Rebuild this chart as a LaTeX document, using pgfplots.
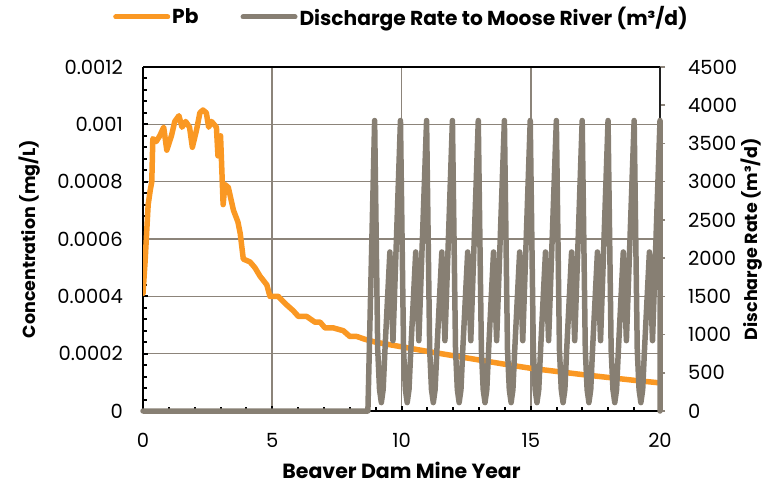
\documentclass[border=0pt]{standalone}
\usepackage{pgfplots}
\pgfplotsset{compat=1.18}
\usepackage{fontspec}
\setmainfont{Poppins}
\definecolor{pborange}{RGB}{250,152,35}
\definecolor{dgrey}{RGB}{135,127,115}
\definecolor{gridgrey}{RGB}{140,132,122}

\pgfplotstableread{
x y
0.00 0.00041
0.08 0.00052
0.14 0.00062
0.20 0.00072
0.28 0.00077
0.34 0.00080
0.38 0.00095
0.51 0.00094
0.65 0.00096
0.80 0.00099
0.92 0.00091
1.10 0.00096
1.23 0.00101
1.39 0.00103
1.51 0.00099
1.65 0.00101
1.80 0.00099
1.91 0.00092
2.07 0.00098
2.20 0.00104
2.32 0.00105
2.45 0.00104
2.54 0.00099
2.65 0.00101
2.84 0.00099
2.90 0.00089
3.00 0.00096
3.10 0.00072
3.17 0.00079
3.30 0.00078
3.50 0.00070
3.67 0.00066
3.76 0.00062
3.88 0.00053
4.14 0.00052
4.33 0.00050
4.53 0.00047
4.79 0.00044
4.91 0.00040
5.23 0.00040
5.56 0.00037
5.81 0.00035
6.01 0.00033
6.33 0.00033
6.65 0.00031
6.85 0.00031
7.04 0.00029
7.36 0.00029
7.75 0.00028
8.00 0.00026
8.27 0.00026
8.59 0.00025
9.00 0.000240
10.00 0.000224
11.00 0.000208
12.00 0.000193
13.00 0.000178
14.00 0.000163
15.00 0.000149
16.00 0.000138
17.00 0.000127
18.00 0.000117
19.00 0.000107
20.00 0.000098
}\pbdata

\pgfplotstableread{
x y
0.00 0
8.70 0
8.96 3800
9.08 800
9.15 280
9.22 110
9.29 280
9.36 800
9.55 2080
9.67 920
9.96 3800
10.08 800
10.15 280
10.22 110
10.29 280
10.36 800
10.55 2080
10.67 920
10.97 3800
11.09 800
11.16 280
11.23 110
11.30 280
11.37 800
11.56 2080
11.68 920
11.97 3800
12.09 800
12.16 280
12.23 110
12.30 280
12.37 800
12.56 2080
12.68 920
12.97 3800
13.09 800
13.16 280
13.23 110
13.30 280
13.37 800
13.56 2080
13.68 920
13.98 3800
14.10 800
14.17 280
14.24 110
14.31 280
14.38 800
14.57 2080
14.69 920
14.98 3800
15.10 800
15.17 280
15.24 110
15.31 280
15.38 800
15.57 2080
15.69 920
15.99 3800
16.11 800
16.18 280
16.25 110
16.32 280
16.39 800
16.58 2080
16.70 920
16.99 3800
17.11 800
17.18 280
17.25 110
17.32 280
17.39 800
17.58 2080
17.70 920
17.99 3800
18.11 800
18.18 280
18.25 110
18.32 280
18.39 800
18.58 2080
18.70 920
19.00 3800
19.12 800
19.19 280
19.26 110
19.33 280
19.40 800
19.59 2080
19.71 920
20.00 3800
20.00 0
}\disdata

\begin{document}
\begin{tikzpicture}
\path[use as bounding box] (0,0) rectangle (775pt,487pt);
\begin{axis}[
  at={(143pt,76pt)}, anchor=south west,
  scale only axis, width=517pt, height=344pt,
  xmin=0, xmax=20, ymin=0, ymax=0.0012,
  axis x line*=bottom, axis y line*=left,
  x axis line style={black, line width=2.4pt},
  y axis line style={black, line width=2.6pt},
  xtick={0,5,10,15,20}, minor x tick num=4,
  ytick={0,0.0002,0.0004,0.0006,0.0008,0.001,0.0012},
  yticklabels={0,0.0002,0.0004,0.0006,0.0008,0.001,0.0012},
  minor y tick num=4,
  tick align=inside,
  major tick length=5pt, minor tick length=4pt,
  tick style={black, line width=2pt},
  xmajorgrids, ymajorgrids,
  grid style={gridgrey, line width=1.6pt},
  scaled y ticks=false,
  /pgf/number format/assume math mode=true,
  tick label style={font=\fontsize{19.5}{21}\selectfont},
  xticklabel style={anchor=center, inner sep=0pt, yshift=-29pt},
  yticklabel style={anchor=east, inner sep=0pt, xshift=-20pt},
  xlabel={Beaver Dam Mine Year}, ylabel={Concentration (mg/L)},
  xlabel style={font=\fontsize{20.5}{22}\selectfont\bfseries, at={(axis description cs:0.5,-0.1715)}, anchor=center},
  ylabel style={font=\fontsize{17.5}{20}\selectfont\bfseries, at={(axis description cs:-0.2186,0.5)}, anchor=center},
]
\addplot[pborange, line width=5.5pt, line join=round, line cap=round] table[x=x,y=y] {\pbdata};
\end{axis}
\begin{axis}[
  at={(143pt,76pt)}, anchor=south west,
  scale only axis, width=517pt, height=344pt,
  xmin=0, xmax=20, ymin=0, ymax=4500,
  axis x line*=top, axis y line*=right,
  x axis line style={black, line width=2.6pt},
  y axis line style={black!75!gray, line width=1.8pt},
  xtick=\empty,
  ytick={0,500,1000,1500,2000,2500,3000,3500,4000,4500},
  yticklabels={0,500,1000,1500,2000,2500,3000,3500,4000,4500},
  tick align=outside, major tick length=5pt,
  tick style={gridgrey, line width=1.5pt},
  scaled y ticks=false,
  /pgf/number format/assume math mode=true,
  tick label style={font=\fontsize{19.5}{21}\selectfont},
  yticklabel style={anchor=west, inner sep=0pt, xshift=23pt},
  ylabel={Discharge Rate (m³/d)},
  ylabel style={font=\fontsize{17.5}{20}\selectfont\bfseries, at={(axis description cs:1.178,0.5)}, anchor=center},
  clip=false,
  legend style={at={(axis description cs:0.5,1)}, anchor=center, yshift=50pt,
    draw=none, fill=none, font=\fontsize{20.2}{22}\selectfont\bfseries,
    nodes={inner sep=2pt},
    /tikz/every even column/.append style={column sep=40pt}},
  legend columns=2,
  legend image code/.code={\draw[#1, line width=5pt, line cap=round] (0pt,0pt) -- (52pt,0pt);},
]
\addlegendimage{pborange, line width=5.5pt}
\addlegendentry{Pb}
\addplot[dgrey, line width=5.5pt, line join=round, line cap=round] table[x=x,y=y] {\disdata};
\addlegendentry{Discharge Rate to Moose River (m³/d)}
\end{axis}
\end{tikzpicture}
\end{document}
